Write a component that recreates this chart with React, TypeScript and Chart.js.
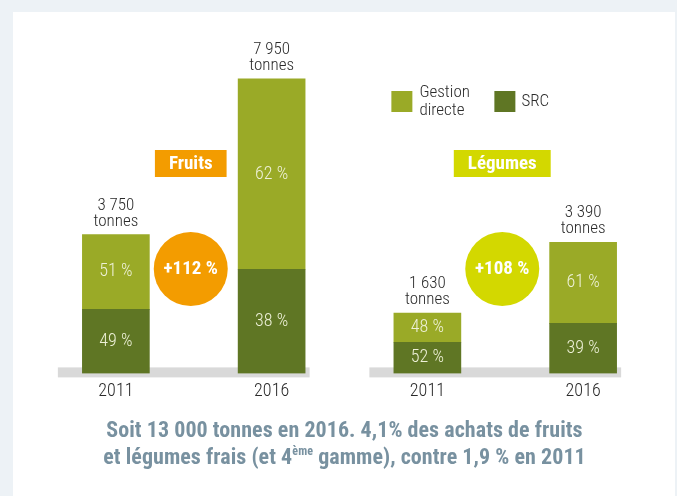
import React, { useEffect, useRef } from 'react';
import { Chart, registerables } from 'chart.js';

Chart.register(...registerables);

// ---- data ----
const categories = ['2011', '2016', '2011', '2016'];
const groupNames = ['Fruits', 'Légumes'];
const groupColors = ['#f39c00', '#d3d800'];
const growthLabels = ['+112 %', '+108 %'];
const seriesNames = ['Gestion directe', 'SRC'];
const gestionValues = [2020, 5140, 790, 2190];
const srcValues = [1730, 2810, 840, 1350];
const totalLabels = ['3 750', '7 950', '1 630', '3 390'];
const unitLabel = 'tonnes';
const gestionPctLabels = ['51 %', '62 %', '48 %', '61 %'];
const srcPctLabels = ['49 %', '38 %', '52 %', '39 %'];
const yMax = 8000;

const FONT = '"Roboto Condensed", Roboto, sans-serif';
const LIGHT = '#9aaa27';
const DARK = '#5f7624';
const TEXT = '#2a2a2a';

const annotate = {
  id: 'annotate',
  beforeDatasetsDraw(chart: any) {
    const { ctx, scales } = chart;
    const x = scales.x;
    const y = scales.y;
    const base = y.getPixelForValue(0);
    ctx.save();
    ctx.fillStyle = '#d9d9d9';
    for (let g = 0; g < groupNames.length; g++) {
      const x0 = x.getPixelForValue(g * 2);
      const x1 = x.getPixelForValue(g * 2 + 1);
      ctx.fillRect(x0 - 58, base - 6, x1 + 38 - (x0 - 58), 10);
    }
    ctx.restore();
  },
  afterDatasetsDraw(chart: any) {
    const { ctx, chartArea, scales } = chart;
    const x = scales.x;
    ctx.save();
    ctx.textAlign = 'center';
    ctx.textBaseline = 'middle';

    // percentage labels inside segments
    chart.data.datasets.forEach((ds: any, di: number) => {
      const meta = chart.getDatasetMeta(di);
      meta.data.forEach((el: any, i: number) => {
        const cy = (el.y + el.base) / 2;
        ctx.font = `300 18px ${FONT}`;
        ctx.fillStyle = '#eef1d8';
        ctx.fillText(ds.pctLabels[i], el.x, cy);
      });
    });

    // totals above bars
    const topMeta = chart.getDatasetMeta(chart.data.datasets.length - 1);
    topMeta.data.forEach((el: any, i: number) => {
      ctx.font = `300 17px ${FONT}`;
      ctx.fillStyle = TEXT;
      ctx.fillText(totalLabels[i], el.x, el.y - 29);
      ctx.fillText(unitLabel, el.x, el.y - 13);
    });

    // group boxes and growth circles
    for (let g = 0; g < groupNames.length; g++) {
      const x0 = x.getPixelForValue(g * 2);
      const x1 = x.getPixelForValue(g * 2 + 1);
      const cx = (x0 + x1) / 2 - 3;
      ctx.font = `bold 19px ${FONT}`;
      const tw = ctx.measureText(groupNames[g]).width;
      const bw = tw + 28;
      ctx.fillStyle = groupColors[g];
      ctx.fillRect(cx - bw / 2, chartArea.top + 73, bw, 27);
      ctx.fillStyle = '#ffffff';
      ctx.fillText(groupNames[g], cx, chartArea.top + 87);

      ctx.fillStyle = groupColors[g];
      ctx.beginPath();
      ctx.arc(cx, chartArea.top + 192, 37, 0, Math.PI * 2);
      ctx.fill();
      ctx.fillStyle = '#ffffff';
      ctx.font = `bold 19px ${FONT}`;
      ctx.fillText(growthLabels[g], cx, chartArea.top + 192);
    }

    // legend
    const lx = x.getPixelForValue(2);
    const ly = chartArea.top + 14;
    const items = [
      { name: seriesNames[0], color: LIGHT, left: lx - 36 },
      { name: seriesNames[1], color: DARK, left: lx + 67 },
    ];
    ctx.textAlign = 'left';
    items.forEach((it) => {
      ctx.fillStyle = it.color;
      ctx.fillRect(it.left, ly, 21, 21);
      ctx.fillStyle = TEXT;
      ctx.font = `300 17px ${FONT}`;
      const words = it.name.split(' ');
      if (words.length > 1) {
        ctx.fillText(words[0], it.left + 28, ly + 2);
        ctx.fillText(words.slice(1).join(' '), it.left + 28, ly + 20);
      } else {
        ctx.fillText(it.name, it.left + 27, ly + 10.5);
      }
    });
    ctx.restore();
  },
};

export default function App() {
  const ref = useRef<HTMLCanvasElement>(null);
  useEffect(() => {
    if (!ref.current) return;
    const chart = new Chart(ref.current, {
      type: 'bar',
      data: {
        labels: categories,
        datasets: [
          {
            label: seriesNames[1],
            data: srcValues,
            backgroundColor: DARK,
            barThickness: 67,
            pctLabels: srcPctLabels,
          } as any,
          {
            label: seriesNames[0],
            data: gestionValues,
            backgroundColor: LIGHT,
            barThickness: 67,
            pctLabels: gestionPctLabels,
          } as any,
        ],
      },
      options: {
        responsive: false,
        animation: false,
        layout: { padding: { left: 38, right: 16, top: 77, bottom: 86 } },
        plugins: { legend: { display: false }, tooltip: { enabled: false } },
        scales: {
          x: {
            stacked: true,
            grid: { display: false, drawTicks: false },
            border: { display: false },
            ticks: { color: TEXT, padding: 7.5, font: { family: FONT, size: 18, weight: 300 as any } },
          },
          y: {
            stacked: true,
            display: false,
            min: 0,
            max: yMax,
          },
        },
      },
      plugins: [annotate],
    });
    return () => chart.destroy();
  }, []);

  const captionBase: React.CSSProperties = {
    textAlign: 'center',
    whiteSpace: 'nowrap',
    fontFamily: FONT,
    fontWeight: 'bold',
    fontSize: 22,
    lineHeight: '27px',
    color: '#7891a0',
  };

  return (
    <div style={{ position: 'absolute', left: 0, top: 0, width: 677, height: 496, background: '#edf2f6', overflow: 'hidden' }}>
      <div style={{ position: 'absolute', left: 13, top: 12, width: 662, height: 484, background: '#ffffff' }} />
      <canvas ref={ref} width={677} height={496} style={{ position: 'absolute', left: 0, top: 0 }} />
      <div style={{ position: 'absolute', left: 40, top: 416, width: 609 }}>
        <div style={{ ...captionBase, letterSpacing: '0.05px' }}>Soit 13 000 tonnes en 2016. 4,1% des achats de fruits</div>
        <div style={{ ...captionBase, letterSpacing: '0.05px' }}>
          et légumes frais (et 4
          <sup style={{ fontSize: '0.55em', lineHeight: 0, verticalAlign: 'baseline', position: 'relative', top: '-0.75em' }}>ème</sup>
          {' '}gamme), contre 1,9 % en 2011
        </div>
      </div>
    </div>
  );
}
